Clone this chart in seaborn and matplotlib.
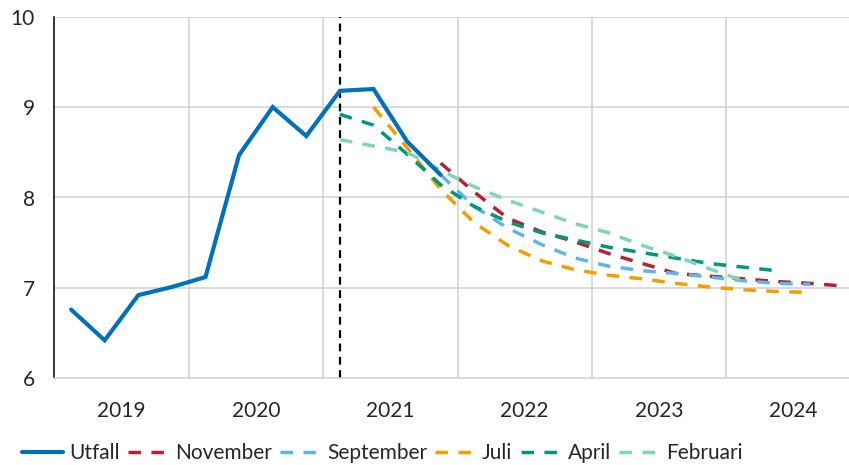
import numpy as np
import pandas as pd
import matplotlib
matplotlib.use("Agg")
import matplotlib.pyplot as plt
import seaborn as sns

# ---------------- data ----------------
years = [2019, 2020, 2021, 2022, 2023, 2024]

utfall_start = "2019Q1"
utfall = [6.76, 6.42, 6.92, 7.01, 7.12, 8.47, 9.00, 8.68, 9.18, 9.20, 8.62, 8.25]

november_start = "2021Q4"
november = [8.38, 8.06, 7.77, 7.62, 7.51, 7.38, 7.27, 7.16, 7.13, 7.10, 7.07, 7.05, 7.02]

september_start = "2021Q4"
september = [8.25, 7.90, 7.66, 7.48, 7.33, 7.24, 7.19, 7.16, 7.12, 7.08, 7.05, 7.04]

juli_start = "2021Q2"
juli = [9.00, 8.55, 8.09, 7.72, 7.47, 7.30, 7.20, 7.14, 7.10, 7.05, 7.01, 6.98, 6.96, 6.95]

april_start = "2021Q1"
april = [8.92, 8.80, 8.48, 8.14, 7.90, 7.73, 7.61, 7.53, 7.45, 7.39, 7.33, 7.27, 7.23, 7.19]

februari_start = "2021Q1"
februari = [8.64, 8.57, 8.50, 8.30, 8.12, 7.97, 7.84, 7.71, 7.61, 7.47, 7.35, 7.21, 7.08]

vline_quarter = "2021Q1"

series = [
    ("Utfall", utfall_start, utfall),
    ("November", november_start, november),
    ("September", september_start, september),
    ("Juli", juli_start, juli),
    ("April", april_start, april),
    ("Februari", februari_start, februari),
]

colors = {
    "Utfall": "#0070b8",
    "November": "#b8202f",
    "September": "#5cb5ef",
    "Juli": "#f59c00",
    "April": "#00957c",
    "Februari": "#80d5b5",
}


def qpos(q):
    # quarter string -> position at the middle of the quarter
    y, n = q.split("Q")
    return int(y) + (int(n) - 0.5) / 4


rows = []
for name, start, vals in series:
    x0 = qpos(start)
    for i, v in enumerate(vals):
        rows.append({"serie": name, "x": x0 + i * 0.25, "value": v})
df = pd.DataFrame(rows)

# ---------------- plot ----------------
sns.set_style("white")
plt.rcParams["font.family"] = ["Lato", "DejaVu Sans"]

W, H = 849, 465
fig = plt.figure(figsize=(W / 100, H / 100), dpi=100)
left, right, top, bottom = 54.3, 849, 16.7, 378.3
ax = fig.add_axes([left / W, 1 - bottom / H, (right - left) / W, (bottom - top) / H])

px_per_year = 134.4
ax.set_xlim(2019, 2019 + (right - left) / px_per_year)
ax.set_ylim(6, 10)

grid_c = "#d0d0d0"
for yr in years[1:]:
    ax.axvline(yr, color=grid_c, lw=1.1, zorder=0)
for yv in [7, 8, 9, 10]:
    ax.axhline(yv, color=grid_c, lw=1.1, zorder=0)

ax.axvline(qpos(vline_quarter), color="black", lw=1.6, ls=(0, (3.5, 2.5)), zorder=1)

for name, start, vals in series:
    d = df[df["serie"] == name]
    if name == "Utfall":
        sns.lineplot(data=d, x="x", y="value", ax=ax, color=colors[name], lw=3.0,
                     label=name, zorder=5, solid_joinstyle="miter")
    else:
        sns.lineplot(data=d, x="x", y="value", ax=ax, color=colors[name], lw=2.5,
                     ls=(0, (3.6, 3.0)), label=name, zorder=3)

ax.set_xlabel("")
ax.set_ylabel("")

fs = 15
ax.set_yticks([6, 7, 8, 9, 10])
ax.set_yticklabels(["6", "7", "8", "9", "10"])
ax.tick_params(axis="y", direction="in", length=7.5, width=1, color="black",
               labelsize=fs, pad=14)

ax.set_xticks(years[1:])
ax.set_xticklabels([])
ax.set_xticks([y + 0.5 for y in years], minor=True)
ax.set_xticklabels([str(y) for y in years], minor=True)
ax.tick_params(axis="x", which="both", length=0, labelsize=fs, pad=16)

for s in ["top", "right"]:
    ax.spines[s].set_visible(False)
ax.spines["left"].set_color("black")
ax.spines["left"].set_linewidth(1.1)
ax.spines["bottom"].set_color(grid_c)
ax.spines["bottom"].set_linewidth(1.1)

handles, labels = ax.get_legend_handles_labels()
ax.legend(handles, labels, loc="lower left", bbox_to_anchor=(20 / W, 0.0),
          bbox_transform=fig.transFigure, ncol=6, frameon=False,
          fontsize=fs, handlelength=1.95, handletextpad=0.3,
          columnspacing=0.4, borderaxespad=0.05, borderpad=0.05)

fig.savefig("out.png", dpi=100)
